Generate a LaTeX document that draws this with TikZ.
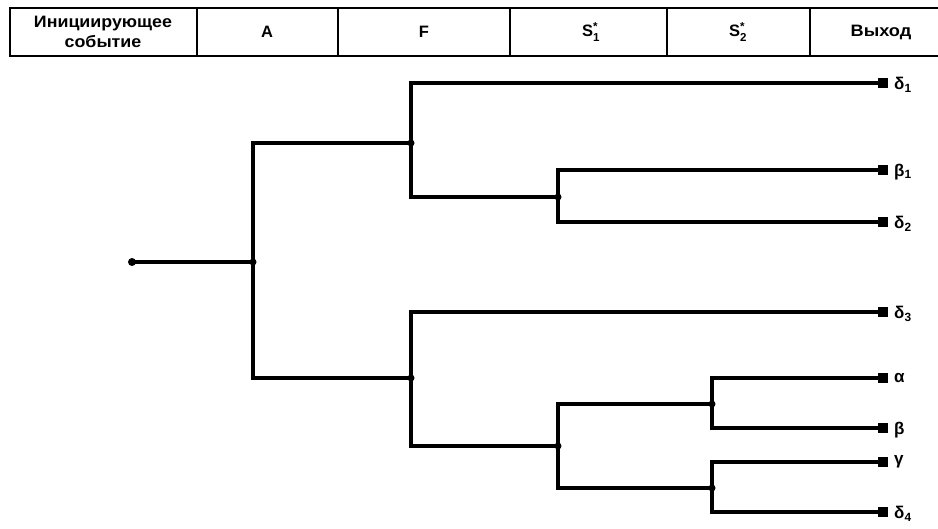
\documentclass[tikz,border=0pt]{standalone}
\usepackage{amsmath}
\usepackage{fontspec}
\setmainfont{Liberation Sans}
\begin{document}
\begin{tikzpicture}[x=1pt,y=-1pt,
  ln/.style={line width=3.1pt, line cap=rect},
  lnthick/.style={line width=4pt, line cap=rect},
  dot/.style={circle, fill=black, inner sep=0pt, minimum size=7pt},
  endsq/.style={rectangle, fill=black, inner sep=0pt, minimum size=10pt},
  lbl/.style={anchor=west, inner sep=0pt, font=\fontsize{17}{19}\selectfont\bfseries},
  hdr/.style={font=\fontsize{16.5}{20}\selectfont\bfseries, align=center, inner sep=0pt},
  frame/.style={line width=2.4pt}
]
\useasboundingbox (0,0) rectangle (938,529);
% header table
\draw[frame] (10,8) rectangle (945,56);
\foreach \xx in {197,338,510,667,810} \draw[frame] (\xx,8) -- (\xx,56);
\node[hdr] (h1) at (103,32) {\scalebox{1.08}[1]{Инициирующее}\\\scalebox{1.08}[1]{событие}};
\node[hdr] (h2) at (267,32) {A};
\node[hdr] (h3) at (424,32) {F};
\node[hdr] (h4) at (591,32) {S$^{\text{*}}_{\text{1}}$};
\node[hdr] (h5) at (738,32) {S$^{\text{*}}_{\text{2}}$};
\node[hdr] (h6) at (881,32) {\scalebox{1.1}[1]{Выход}};

% junctions
\node[dot, minimum size=8pt] (s) at (132,262) {};
\node[dot] (n0) at (253,262) {};
\node[dot] (f1) at (411,143) {};
\node[dot] (f2) at (411,378) {};
\node[dot] (a1) at (558,197) {};
\node[dot] (a2) at (558,446) {};
\node[dot] (b1) at (712,404) {};
\node[dot] (b2) at (712,488) {};

% end points
\node[endsq] (e1) at (883,83) {};
\node[endsq] (e2) at (883,170) {};
\node[endsq] (e3) at (883,222) {};
\node[endsq] (e4) at (883,312) {};
\node[endsq] (e5) at (883,378) {};
\node[endsq] (e6) at (883,428) {};
\node[endsq] (e7) at (883,462) {};
\node[endsq] (e8) at (883,512) {};

% labels
\node[lbl] (l1) at (894,85) {δ\textsubscript{1}};
\node[lbl] (l2) at (894,172) {β\textsubscript{1}};
\node[lbl] (l3) at (894,224) {δ\textsubscript{2}};
\node[lbl] (l4) at (894,314) {δ\textsubscript{3}};
\node[lbl] (l5) at (894,378) {α};
\node[lbl] (l6) at (894,430) {β};
\node[lbl] (l7) at (894,462) {γ};
\node[lbl] (l8) at (894,514) {δ\textsubscript{4}};

% connectors
\draw[ln] (s) -- (n0);
\draw[ln] (n0) |- (f1);
\draw[ln] (n0) |- (f2);
\draw[ln] (f1) |- (e1);
\draw[ln] (f1) |- (a1);
\draw[lnthick] (a1) |- (e2);
\draw[ln] (a1) |- (e3);
\draw[ln] (f2) |- (e4);
\draw[lnthick] (f2) |- (a2);
\draw[ln] (a2) |- (b1);
\draw[ln] (a2) |- (b2);
\draw[ln] (b1) |- (e5);
\draw[lnthick] (b1) |- (e6);
\draw[ln] (b2) |- (e7);
\draw[ln] (b2) |- (e8);
\end{tikzpicture}
\end{document}
